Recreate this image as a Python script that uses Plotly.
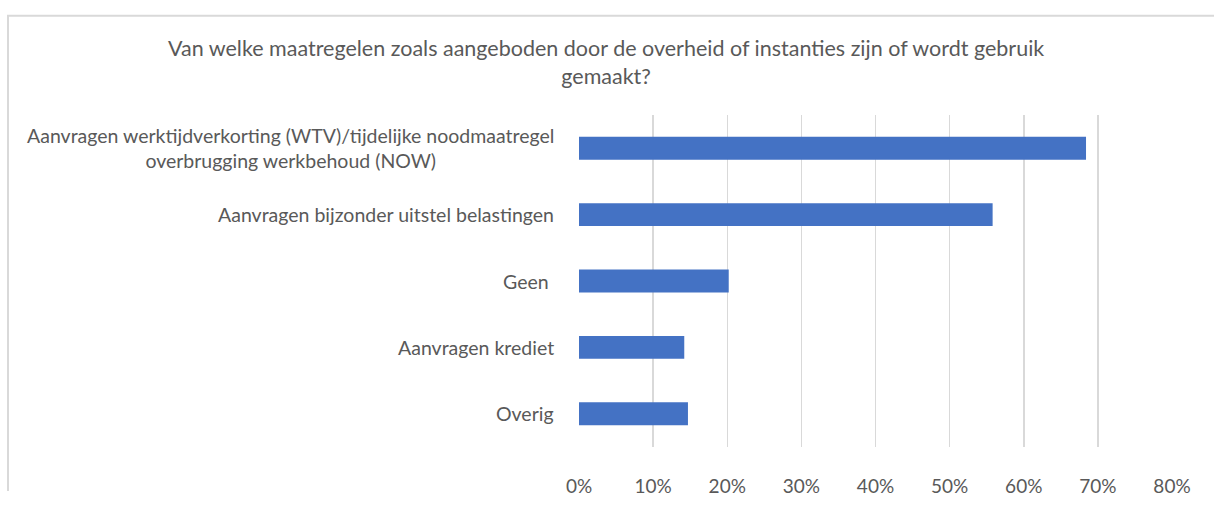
import plotly.graph_objects as go

categories = [
    "Aanvragen werktijdverkorting (WTV)/tijdelijke noodmaatregel<br>overbrugging werkbehoud (NOW)",
    "Aanvragen bijzonder uitstel belastingen",
    "Geen ",
    "Aanvragen krediet",
    "Overig",
]
values = [0.684, 0.558, 0.202, 0.142, 0.147]
tick_vals = [0, 0.1, 0.2, 0.3, 0.4, 0.5, 0.6, 0.7, 0.8]
tick_text = ["0%", "10%", "20%", "30%", "40%", "50%", "60%", "70%", "80%"]
title_text = ("Van welke maatregelen zoals aangeboden door de overheid of instanties zijn of wordt gebruik"
              "<br>gemaakt?")

FONT = "Lato"
GRAY = "#595959"

W, H = 1214, 509
L, R, T, B = 579, W - 1172, 115, H - 463
pw, ph = W - L - R, H - T - B


def px_x(v):
    return (v - L) / pw


def px_y(v):
    return (H - B - v) / ph


fig = go.Figure()
fig.add_trace(go.Bar(
    x=values, y=categories, orientation="h",
    marker=dict(color="#4472C4", line=dict(width=0)),
    width=0.345, hoverinfo="x+y",
))

annotations = []
for c in categories:
    annotations.append(dict(
        x=0, y=c, xref="paper", yref="y", xanchor="right", yanchor="middle",
        xshift=-23, text=c, showarrow=False, align="center",
        font=dict(family=FONT, size=19.5, color=GRAY),
    ))
annotations.append(dict(
    x=px_x(606), y=px_y(59), xref="paper", yref="paper",
    xanchor="center", yanchor="middle", text=title_text, showarrow=False,
    align="center", font=dict(family=FONT, size=21.5, color=GRAY),
))

shapes = [
    dict(type="line", xref="paper", yref="paper", x0=px_x(7), x1=px_x(1214), y0=px_y(11), y1=px_y(11),
         line=dict(color="#d9d9d9", width=2)),
    dict(type="line", xref="paper", yref="paper", x0=px_x(8), x1=px_x(8), y0=px_y(11), y1=px_y(509),
         line=dict(color="#d9d9d9", width=2)),
]

fig.update_layout(
    width=W, height=H,
    margin=dict(l=L, r=R, t=T, b=B, pad=0),
    paper_bgcolor="white", plot_bgcolor="white",
    showlegend=False,
    annotations=annotations,
    shapes=shapes,
    xaxis=dict(
        range=[0, 0.8], tickvals=tick_vals, ticktext=tick_text,
        showgrid=True, gridcolor="#d9d9d9", gridwidth=1.5,
        zeroline=False, showline=False, ticks="",
        tickfont=dict(family=FONT, size=19, color=GRAY),
        ticklabelstandoff=26,
        fixedrange=True,
    ),
    yaxis=dict(
        categoryorder="array", categoryarray=categories[::-1],
        range=[-0.5, len(categories) - 0.5], autorange=False,
        showticklabels=False, showgrid=False, zeroline=False,
        showline=False, ticks="", fixedrange=True,
    ),
)

fig.write_html(
    "out.html",
    config={"displayModeBar": False, "staticPlot": True},
    post_script=(
        "document.documentElement.style.margin='0';"
        "document.body.style.margin='0';"
    ),
)
